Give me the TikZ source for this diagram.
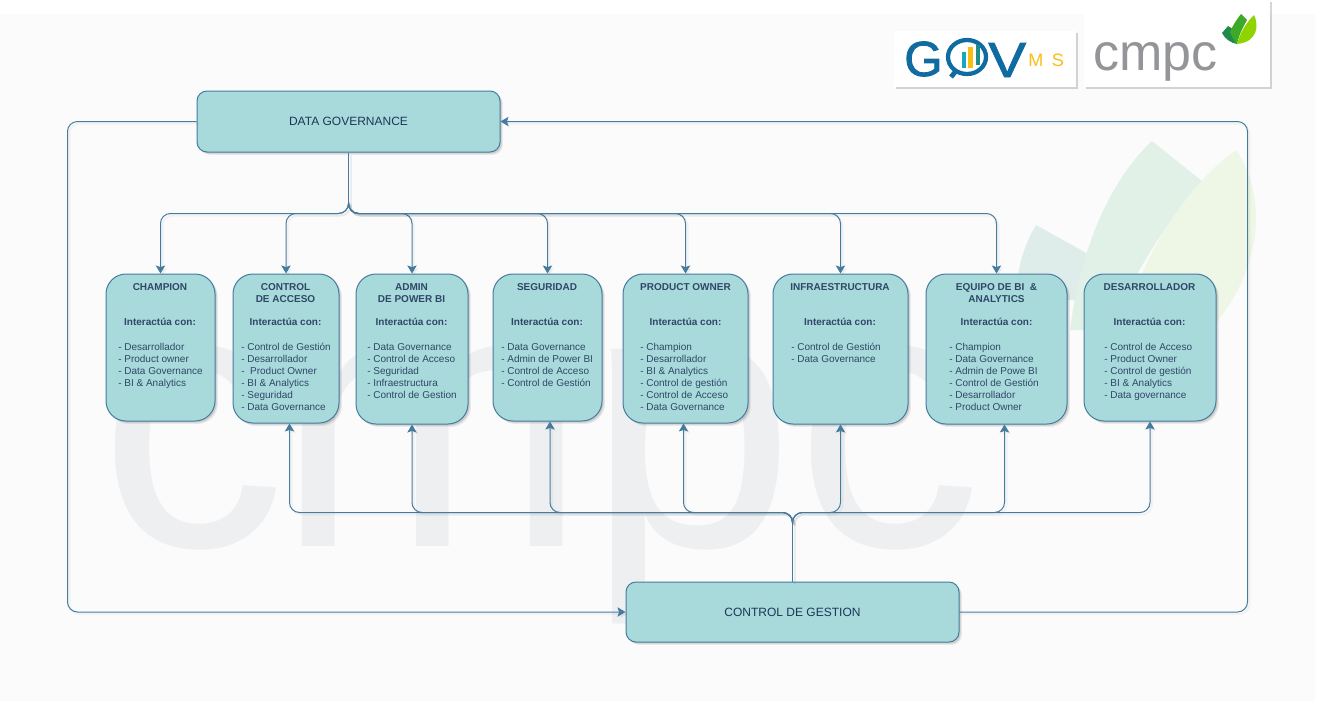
\documentclass[tikz,border=0pt]{standalone}
\usepackage{fontspec}
\setmainfont{Liberation Sans}
\newfontfamily\logofont[FakeBold=1.6]{Liberation Sans}
\usetikzlibrary{arrows.meta,shadows,calc}
\definecolor{boxfill}{HTML}{A8DADC}
\definecolor{boxline}{HTML}{457B9D}
\definecolor{ink}{HTML}{1D3557}
\definecolor{inksoft}{HTML}{2F4766}
\definecolor{panel}{HTML}{FBFBFC}
\definecolor{wm}{HTML}{EEEFF1}
\definecolor{leafa}{HTML}{DFEDEA}
\definecolor{leafb}{HTML}{E2F1E8}
\definecolor{leafc}{HTML}{EEF6E6}
\definecolor{gblue}{HTML}{0F6BA0}
\definecolor{gyel}{HTML}{F9BE14}
\definecolor{gteal}{HTML}{1BA5BE}
\definecolor{gdark}{HTML}{1E8C8C}
\definecolor{cgrey}{HTML}{939598}
\definecolor{lfa}{HTML}{1F8A4C}
\definecolor{lfb}{HTML}{3CAA28}
\definecolor{lfc}{HTML}{8FD400}
\tikzset{
 x=0.75pt,y=-0.75pt,
 softshadow/.style={drop shadow={shadow xshift=2.2pt,shadow yshift=-2.2pt,fill=black,opacity=0.07},
                    drop shadow={shadow xshift=1.3pt,shadow yshift=-1.3pt,fill=black,opacity=0.12}},
 card/.style={draw=boxline,fill=boxfill,line width=0.75pt,rounded corners=15pt,inner sep=0pt,softshadow},
 widecard/.style={card,rounded corners=7.5pt,text=ink,font=\fontsize{9pt}{11pt}\selectfont},
 sz/.style 2 args={minimum width={(#1)*0.75pt},minimum height={(#2)*0.75pt}},
 txt/.style={font=\fontsize{7.5pt}{9pt}\selectfont,text=inksoft,inner sep=0pt},
 titletxt/.style={txt,font=\fontsize{7.5pt}{9pt}\bfseries\selectfont,align=center,anchor=north},
 headtxt/.style={txt,font=\fontsize{7.5pt}{9pt}\bfseries\selectfont,anchor=center},
 listtxt/.style={txt,align=left,anchor=north west},
 stem/.style={draw=boxline,line width=0.75pt,
   preaction={draw=black,opacity=0.06,line width=1.5pt,transform canvas={xshift=1.5pt,yshift=-1.5pt}}},
 link/.style={draw=boxline,line width=0.75pt,rounded corners=7.5pt,
   -{Stealth[length=6pt,width=7pt,inset=1.2pt]},
   preaction={draw=black,opacity=0.035,line width=1.5pt,transform canvas={xshift=1.5pt,yshift=-1.5pt}}},
 logocard/.style={fill=white,drop shadow={shadow xshift=1.5pt,shadow yshift=-1.5pt,fill=black,opacity=0.16}},
 wordmark/.style={anchor=base west,inner sep=0pt},
}
% name, x1, y1, x2, y2, list x, title x, title, list
\newcommand{\rolecard}[9]{%
  \node[card,sz={#4-#2}{#5-#3}] (#1) at ({(#2+#4)/2},{(#3+#5)/2}) {};
  \node[titletxt] (#1-title) at (#7,281.6) {\strut #8};
  \node[headtxt] (#1-head) at (#7,322) {Interactúa con:};
  \node[listtxt] (#1-list) at (#6,341.6) {\strut #9};
}
\begin{document}
\begin{tikzpicture}
\useasboundingbox (0,0) rectangle (1322,701);
\fill[white] (0,0) rectangle (1322,701);
\fill[panel] (0,14) rectangle (1315,701);
% watermark leaves
\fill[leafa] (1016,300) .. controls (1016,270) and (1024,245) .. (1036,225) -- (1088,254) -- (1088,300) -- cycle;
\fill[leafb] (1070,330) .. controls (1080,250) and (1110,180) .. (1152,141) -- (1203,182) .. controls (1170,215) and (1130,280) .. (1110,330) -- cycle;
\fill[leafc] (1120,340) .. controls (1135,270) and (1180,190) .. (1236,150) .. controls (1270,200) and (1262,280) .. (1200,340) -- cycle;
% watermark word
\node[text=wm,font=\fontsize{280pt}{280pt}\selectfont,wordmark] (wmark) at (99,546) {c\kern-6.75pt mpc};
% logos
\path[logocard] (894,31) rectangle (1076,87);
\path[logocard] (1084,0) rectangle (1270,87);
\node[text=gblue,font=\logofont\fontsize{37pt}{37pt}\selectfont,wordmark] (gov) at (904,76) {G};
\draw[gblue,line width=3.2pt] (967,57) ellipse (19 and 17);
\draw[gblue,line width=3.6pt] (956,71) -- (951,77);
\fill[gteal] (962,52) rectangle (966,68);
\fill[gyel] (968,47) rectangle (973,68);
\fill[gdark] (976,45) rectangle (980,65);
\node[text=gblue,font=\logofont\fontsize{37pt}{37pt}\selectfont,wordmark,transform shape,xscale=1.15] (vv) at (988,77) {V};
\node[text=gyel,font=\fontsize{13.5pt}{14pt}\selectfont,wordmark] (ms) at (1028,66) {M\kern6.4pt S};
\node[text=cgrey,font=\fontsize{39pt}{39pt}\selectfont,wordmark] (cm) at (1093,70) {cmpc};
\fill[lfa] (1222,33) -- (1228,26) -- (1236,31) -- (1237,44) .. controls (1231,43) and (1225,39) .. (1222,33) -- cycle;
\fill[lfb] (1230,32) .. controls (1233,25) and (1237,19) .. (1241,14) -- (1247,20) .. controls (1243,27) and (1239,35) .. (1237,44) .. controls (1234,40) and (1232,37) .. (1230,32) -- cycle;
\fill[lfc] (1237,44) .. controls (1240,33) and (1246,23) .. (1254,15) .. controls (1259,25) and (1258,42) .. (1237,44) -- cycle;
% main boxes
\node[widecard,sz={303}{61}] (dg) at (348.5,121.5) {DATA GOVERNANCE};
\node[widecard,sz={333}{60}] (cg) at (792.5,612) {CONTROL DE GESTION};
% role boxes
\rolecard{ch}{106}{274}{215}{421}{118}{160}{CHAMPION}{- Desarrollador\\- Product owner\\- Data Governance\\- BI \& Analytics}
\rolecard{ca}{233}{274}{339}{423}{241}{285.5}{CONTROL\\DE ACCESO}{- Control de Gestión\\- Desarrollador\\-\ \ Product Owner\\- BI \& Analytics\\- Seguridad\\- Data Governance}
\rolecard{ad}{356}{274}{468}{424}{367}{411.5}{ADMIN\\DE POWER BI}{- Data Governance\\- Control de Acceso\\- Seguridad\\- Infraestructura\\- Control de Gestion}
\rolecard{se}{493}{274}{602}{421}{501}{547}{SEGURIDAD}{- Data Governance\\- Admin de Power BI\\- Control de Acceso\\- Control de Gestión}
\rolecard{po}{623}{274}{748}{423}{640}{685.5}{PRODUCT OWNER}{- Champion\\- Desarrollador\\- BI \& Analytics\\- Control de gestión\\- Control de Acceso\\- Data Governance}
\rolecard{inf}{773}{274}{908}{424}{791}{840}{INFRAESTRUCTURA}{- Control de Gestión\\- Data Governance}
\rolecard{bi}{926}{274}{1067}{424}{949}{996.5}{EQUIPO DE BI\ \ \&\\ANALYTICS}{- Champion\\- Data Governance\\- Admin de Powe BI\\- Control de Gestión\\- Desarrollador\\- Product Owner}
\rolecard{de}{1084}{274}{1216}{421}{1104}{1149.5}{DESARROLLADOR}{- Control de Acceso\\- Product Owner\\- Control de gestión\\- BI \& Analytics\\- Data governance}
% Data Governance fan-out
\coordinate (dgj) at ($(dg.south)+(0,50)$);
\draw[stem] (dg.south) -- (dgj);
\foreach \t in {ch,ca,ad,se,po,inf,bi}
  \draw[link] (dgj) -- ($(dg.south)+(0,61)$) -| (\t.north);
% Control de Gestion fan-in
\coordinate (cgj) at ($(cg.north)+(0,-58)$);
\draw[stem] (cg.north) -- (cgj);
\foreach \t/\dx in {ca/3.5,ad/0,se/2.5,po/-2,inf/0,bi/8,de/0}
  \draw[link] (cgj) -- ($(cg.north)+(0,-69)$) -| ($(\t.south)+(\dx,0)$);
% outer loops
\draw[link] (dg.west) -- ++(-129,0) |- (cg.west);
\draw[link] (cg.east) -- ++(288,0) |- (dg.east);
\end{tikzpicture}
\end{document}
